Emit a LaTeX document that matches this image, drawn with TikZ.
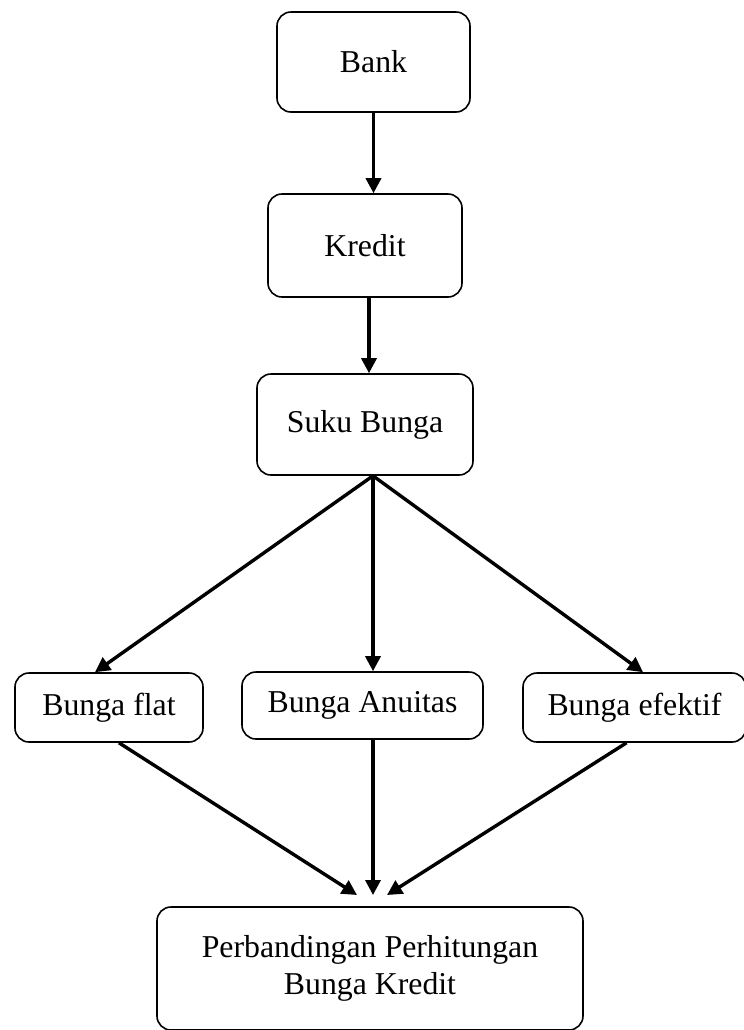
\documentclass[tikz,border=0pt]{standalone}
\usepackage{fontspec}
\setmainfont{Liberation Serif}
\usetikzlibrary{arrows.meta, positioning}

\begin{document}
\begin{tikzpicture}[x=0.5pt, y=-0.5pt,
    box/.style={draw, thick, rounded corners=7pt, align=center, inner sep=0pt,
        font=\fontsize{15.9}{18.5}\selectfont},
    arr/.style={line width=1.7pt, -{Triangle[length=7.5pt, width=7.5pt]}}]
    \useasboundingbox (0,0) rectangle (744,1030);

    % Top chain of boxes
    \node[box, minimum width=96.5pt, minimum height=50pt] (bank) at (373.5,62) {Bank};
    \node[box, minimum width=97pt, minimum height=51.5pt] (kredit) at (365,245.5) {Kredit};
    \node[box, minimum width=108pt, minimum height=50.5pt] (suku) at (365,424.5) {Suku Bunga};

    % Three kinds of interest
    \node[box, minimum width=94pt, minimum height=34.5pt] (flat) at (109,707.5) {Bunga flat};
    \node[box, minimum width=120.5pt, minimum height=33.5pt] (anuitas) at (362.5,705.5) {Bunga Anuitas};
    \node[box, minimum width=111.5pt, minimum height=34.5pt] (efektif) at (634.5,707.5) {Bunga efektif};

    % Final comparison
    \node[box, minimum width=213pt, minimum height=61.5pt] (hasil) at (370,968.5)
        {Perbandingan Perhitungan\\Bunga Kredit};

    % Arrows
    \draw[arr] (bank.south) -- (bank.south |- kredit.north);
    \draw[arr] ([xshift=2pt]kredit.south) -- ([xshift=2pt]kredit.south |- suku.north);

    \coordinate (split) at ([xshift=4pt]suku.south);
    \draw[arr] (split) -- ([xshift=-7pt]flat.north);
    \draw[arr] (split) -- (split |- anuitas.north);
    \draw[arr] (split) -- ([xshift=4.25pt]efektif.north);

    \coordinate (meet) at (373,895);
    \draw[arr] ([xshift=5pt]flat.south) -- ([xshift=-8pt]meet);
    \draw[arr] (meet |- anuitas.south) -- (meet);
    \draw[arr] ([xshift=-4pt]efektif.south) -- ([xshift=7pt]meet);

\end{tikzpicture}
\end{document}
